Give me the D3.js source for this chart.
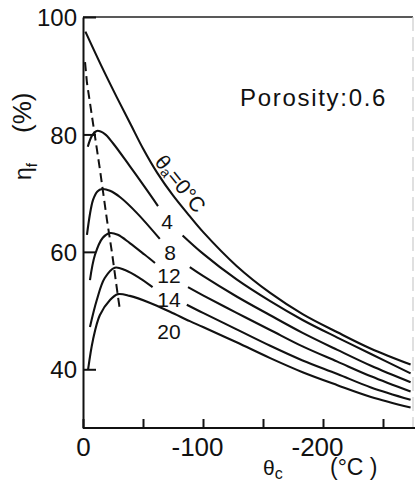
<!DOCTYPE html>
<html>
<head>
<meta charset="utf-8">
<script src="https://cdn.jsdelivr.net/npm/d3@7"></script>
<style>
body { margin: 0; background: #fff; }
text { font-family: "Liberation Sans", Arial, sans-serif; fill: #111; }
</style>
</head>
<body>
<div id="chart"></div>
<script>
// theta_a of each curve (deg C)
var curveNames = ['0', '4', '8', '12', '14', '20'];

// [theta_c, eta_f], null = gap where the label sits
var curve0 = [[-2,97.5],[-15,91.8],[-28,86.4],[-40,81.6],[-50,77.6],[-62,73.4],[-75,69.6],[-88,66.3],[-100,63.4],[-128,57.6],[-156,53.0],[-183,49.4],[-212,46.3],[-240,43.5],[-273,40.8]];
var curve4 = [[-4,77.9],[-7.5,79.8],[-11.5,80.6],[-18,80.1],[-25,78.5],[-39,74.6],[-53,70.6],[-62.5,67.8],null,[-83,62.8],[-100,59.7],[-128,55.3],[-156,51.6],[-183,48.4],[-212,45.4],[-240,42.6],[-273,39.3]];
var curve8 = [[-3.3,62.9],[-8.3,68.8],[-12,70.3],[-16,70.7],[-22.5,70.4],[-31,69.3],[-45,66.6],[-64,62.2],null,[-89,57.4],[-100,55.9],[-128,52.4],[-156,49.2],[-183,46.2],[-212,43.3],[-240,40.6],[-273,37.8]];
var curve12 = [[-5.8,55.2],[-10,59.5],[-16.5,62.4],[-22.5,63.2],[-29,62.9],[-39,61.5],[-51.5,59.5],[-60,58.1],null,[-87.5,54.0],[-100,52.6],[-128,49.6],[-156,46.7],[-183,43.9],[-212,41.3],[-240,38.8],[-273,36.2]];
var curve14 = [[-5.8,47.2],[-11.5,51.8],[-18,55.5],[-26.5,57.3],[-35,56.9],[-47.5,55.5],[-58,54.0],null,[-86.5,51.0],[-100,49.6],[-128,46.8],[-156,44.0],[-183,41.5],[-212,39.2],[-240,36.9],[-273,34.8]];
var curve20 = [[-4.2,39.9],[-8.3,45.0],[-14,49.2],[-22.5,51.8],[-29,52.8],[-39,52.5],[-56,51.3],[-72.5,49.8],[-89,48.2],[-100,47.2],[-128,44.6],[-156,41.9],[-183,39.5],[-212,37.3],[-240,35.3],[-273,33.5]];

// dashed line through the maxima
var peakLine = [[-1.7,92.3],[-3.3,88.8],[-14.2,73.9],[-20,65.4],[-24.2,59.8],[-29.2,52.3],[-30.8,50.1]];

// label anchor points (data units)
var labelPos = [[-81.7,71.7],[-70,65.1],[-72.5,59.9],[-71.7,55.9],[-71.7,51.9],[-71.7,46.5]];

var xTicks = [0, -50, -100, -150, -200, -250];
var xTickLabels = ['0', '', '-100', '', '-200', ''];
var yTicks = [40, 60, 80, 100];
var yTickLabels = ['40', '60', '80', '100'];

function drawChart(){

    var W = 417, H = 484;
    var margin = {top: 17, right: 4, bottom: 56, left: 83},
    width = W - margin.left - margin.right,
    height = H - margin.top - margin.bottom;

    var svg = d3.select('#chart').append('svg')
        .attr('width', W)
        .attr('height', H)
        .append('g')
        .attr('transform', 'translate(' + margin.left + ',' + margin.top + ')');

    var x = d3.scaleLinear().domain([0, -275]).range([0, 330]);
    var y = d3.scaleLinear().domain([30, 100]).range([height, 0]);

    // frame: top line and faint right edge
    svg.append('line')
        .attr('x1', 0).attr('x2', 330)
        .attr('y1', 0).attr('y2', 0)
        .style('stroke', '#222').style('stroke-width', 1.5);
    svg.append('line')
        .attr('x1', 330).attr('x2', 330)
        .attr('y1', 0).attr('y2', height)
        .style('stroke', '#ccc').style('stroke-width', 1.2)
        .style('stroke-dasharray', '14,6');

    // axes, ticks pointing inward
    var xAxis = svg.append('g')
        .attr('transform', 'translate(0,' + height + ')')
        .call(d3.axisBottom(x)
            .tickValues(xTicks)
            .tickSize(-9)
            .tickSizeOuter(0)
            .tickPadding(10)
            .tickFormat(function(d, i){ return xTickLabels[i]; }));
    xAxis.select('.domain').attr('d', 'M0,0H332');
    xAxis.selectAll('path, line').style('stroke', '#111').style('stroke-width', 2);
    xAxis.selectAll('text')
        .style('font-size', '26px')
        .attr('dx', function(d){ return d < 0 ? -6 : 0; });

    var yAxis = svg.append('g')
        .call(d3.axisLeft(y)
            .tickValues(yTicks)
            .tickSize(-13)
            .tickSizeOuter(0)
            .tickPadding(6)
            .tickFormat(function(d, i){ return yTickLabels[i]; }));
    yAxis.selectAll('path, line').style('stroke', '#111').style('stroke-width', 2);
    yAxis.selectAll('text')
        .style('font-size', '24px')
        .attr('dy', '0.36em');

    // curves
    var line = d3.line()
        .defined(function(d){ return d !== null; })
        .x(function(d){ return x(d[0]); })
        .y(function(d){ return y(d[1]); })
        .curve(d3.curveCatmullRom.alpha(0.5));

    var curves = [curve0, curve4, curve8, curve12, curve14, curve20];

    svg.selectAll('.curve')
        .data(curves)
        .enter().append('path')
        .attr('class', 'curve')
        .attr('d', line)
        .style('fill', 'none')
        .style('stroke', '#111')
        .style('stroke-width', 2.1);

    svg.append('path')
        .datum(peakLine)
        .attr('d', d3.line()
            .x(function(d){ return x(d[0]); })
            .y(function(d){ return y(d[1]); }))
        .style('fill', 'none')
        .style('stroke', '#111')
        .style('stroke-width', 2)
        .style('stroke-dasharray', '9,5');

    // curve labels
    var first = svg.append('text')
        .attr('transform', 'translate(' + x(labelPos[0][0]) + ',' + y(labelPos[0][1]) + ') rotate(51)')
        .attr('text-anchor', 'middle')
        .attr('dominant-baseline', 'central')
        .style('font-size', '21px');
    first.append('tspan').text('θ');
    first.append('tspan').text('a').attr('dy', 5).style('font-size', '14px');
    first.append('tspan').text('=' + curveNames[0] + '°C').attr('dy', -5);

    svg.selectAll('.clabel')
        .data(curveNames.slice(1))
        .enter().append('text')
        .attr('class', 'clabel')
        .text(function(d){ return d; })
        .attr('x', function(d, i){ return x(labelPos[i + 1][0]); })
        .attr('y', function(d, i){ return y(labelPos[i + 1][1]); })
        .attr('text-anchor', 'middle')
        .attr('dominant-baseline', 'central')
        .style('font-size', '21px');

    svg.append('text')
        .text('Porosity:0.6')
        .attr('x', 157)
        .attr('y', 89)
        .style('font-size', '24px')
        .style('letter-spacing', '1.7px');

    // axis titles
    var yt = svg.append('text')
        .attr('transform', 'translate(-52,163) rotate(-90)')
        .attr('text-anchor', 'start')
        .style('font-size', '23px');
    yt.append('tspan').text('η');
    yt.append('tspan').text('f').attr('dy', 6).style('font-size', '15px');
    yt.append('tspan').text('(%)').attr('dy', -6).attr('dx', 30).style('font-size', '26px');

    var xt = svg.append('text')
        .attr('x', 180)
        .attr('y', 458)
        .style('font-size', '21px');
    xt.append('tspan').text('θ');
    xt.append('tspan').text('c').attr('dy', 4).style('font-size', '16px');

    svg.append('text')
        .text('(°C )')
        .attr('x', 247)
        .attr('y', 458)
        .style('font-size', '23px');
}

drawChart();
</script>
</body>
</html>
